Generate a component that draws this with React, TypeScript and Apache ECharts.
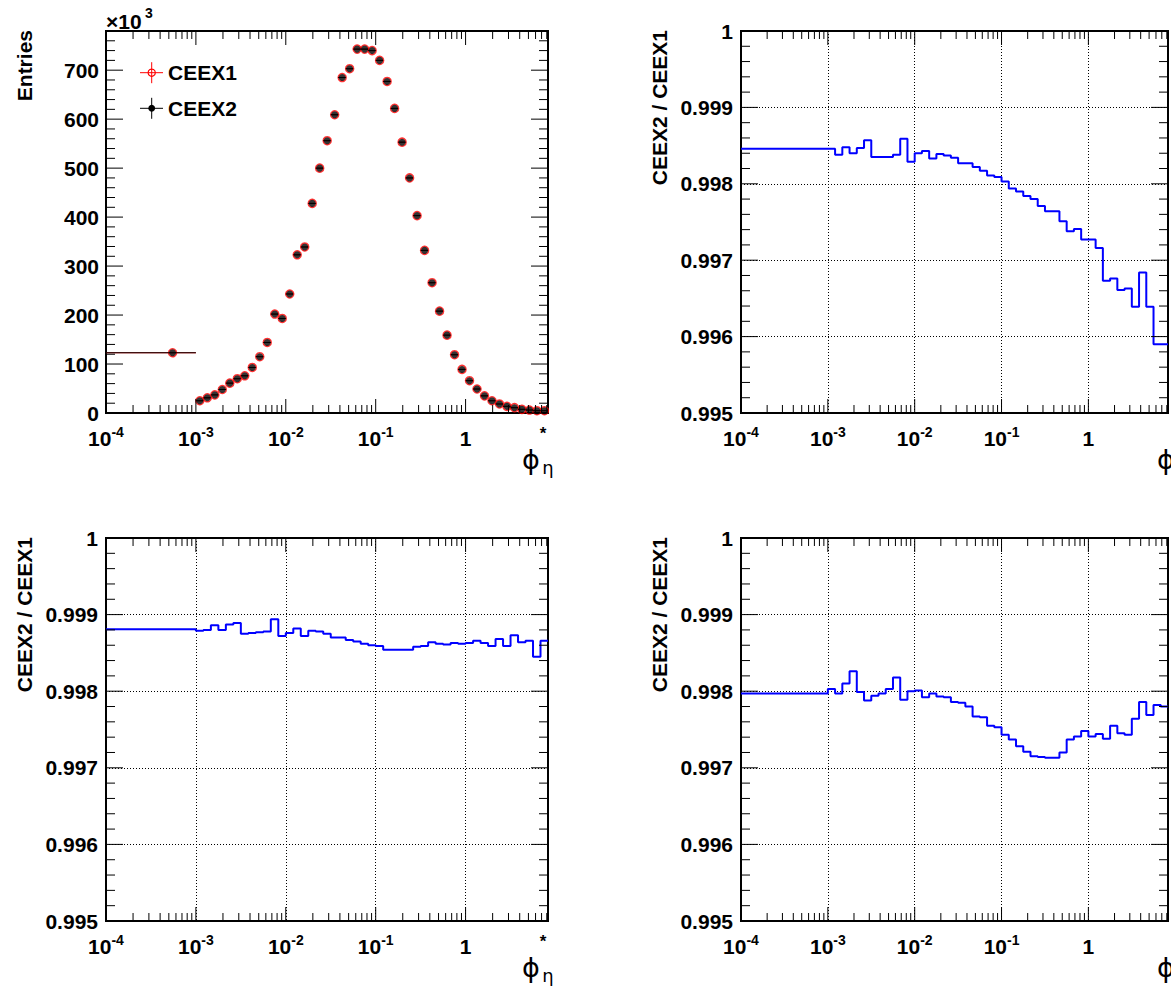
import React, { useEffect, useRef } from 'react';
import * as echarts from 'echarts';

// ---- binning (phi*_eta): one wide bin 1e-4..1e-3, then 12 log bins per decade ----
const binEdges = [
  0.0001,
  0.001, 0.0012115, 0.0014678, 0.0017783, 0.0021544, 0.0026102, 0.0031623, 0.0038312, 0.0046416, 0.0056234, 0.0068129, 0.008254,
  0.01, 0.012115, 0.014678, 0.017783, 0.021544, 0.026102, 0.031623, 0.038312, 0.046416, 0.056234, 0.068129, 0.08254,
  0.1, 0.12115, 0.14678, 0.17783, 0.21544, 0.26102, 0.31623, 0.38312, 0.46416, 0.56234, 0.68129, 0.8254,
  1, 1.2115, 1.4678, 1.7783, 2.1544, 2.6102, 3.1623, 3.8312, 4.6416, 5.6234, 6.8129, 8.254,
];

// ---- entries (x 10^3) ----
const ceex1 = [
  123, 25, 31, 37, 48, 61, 70, 76, 93, 115, 144, 202, 193, 243, 323, 339, 428, 500, 556, 609, 685,
  703, 743, 743, 740, 720, 677, 622, 553, 480, 403, 332, 266, 208, 159, 119, 89, 66, 49, 35, 25,
  18.4, 13.6, 10.9, 7.5, 6, 4.7, 4.7,
];
const ceex2 = [
  123, 25, 31, 37, 48, 61, 70, 76, 93, 115, 144, 202, 193, 243, 323, 339, 428, 500, 556, 609, 685,
  703, 743, 743, 740, 720, 677, 622, 553, 480, 403, 332, 266, 208, 159, 119, 89, 66, 49, 35, 25,
  18.4, 13.6, 10.9, 7.5, 6, 4.7, 4.7,
];

// ---- ratios CEEX2 / CEEX1 ----
const ratioTopRight = [
  0.99846, 0.99846, 0.99838, 0.99848, 0.9984, 0.99847, 0.99857, 0.99835, 0.99835, 0.99835, 0.99838,
  0.99859, 0.99829, 0.9984, 0.99843, 0.99833, 0.99839, 0.99837, 0.99834, 0.99827, 0.99827, 0.99822,
  0.99817, 0.99811, 0.99809, 0.99803, 0.99794, 0.9979, 0.99784, 0.9978, 0.99771, 0.99764, 0.99764,
  0.99751, 0.99738, 0.99741, 0.99727, 0.99727, 0.99716, 0.99673, 0.99676, 0.99661, 0.99663, 0.99639,
  0.99684, 0.99639, 0.9959, 0.9959,
];
const ratioBottomLeft = [
  0.99881, 0.99879, 0.9988, 0.99886, 0.9988, 0.99887, 0.99889, 0.99875, 0.99876, 0.99877, 0.99878,
  0.99894, 0.99872, 0.99876, 0.99882, 0.99872, 0.99879, 0.99878, 0.99875, 0.9987, 0.9987, 0.99867,
  0.99865, 0.99862, 0.9986, 0.99859, 0.99854, 0.99854, 0.99854, 0.99854, 0.99858, 0.99859, 0.99864,
  0.99862, 0.99861, 0.99863, 0.99862, 0.99863, 0.99866, 0.99863, 0.99859, 0.99868, 0.99859, 0.99873,
  0.99864, 0.99866, 0.99845, 0.99866,
];
const ratioBottomRight = [
  0.99797, 0.99803, 0.99797, 0.9981, 0.99826, 0.99799, 0.99788, 0.99794, 0.99797, 0.99803, 0.99818,
  0.99789, 0.998, 0.99801, 0.99792, 0.99797, 0.99793, 0.99792, 0.99786, 0.99785, 0.9978, 0.99767,
  0.99766, 0.99755, 0.99753, 0.99743, 0.99737, 0.99728, 0.99721, 0.99715, 0.99714, 0.99713, 0.99713,
  0.9972, 0.99737, 0.99741, 0.99748, 0.99741, 0.99744, 0.99738, 0.99755, 0.99745, 0.99743, 0.99764,
  0.99786, 0.99769, 0.99782, 0.9978,
];

// ---- axes / ticks ----
const X_MIN = 0.0001;
const X_MAX = 8.254;
const xTickExps = [-4, -3, -2, -1, 0];
const minorMultipliers = [2, 3, 4, 5, 6, 7, 8, 9];
const entriesTicks = [0, 100, 200, 300, 400, 500, 600, 700];
const ratioTicks = [0.995, 0.996, 0.997, 0.998, 0.999, 1];
const legendLabels = ['CEEX1', 'CEEX2'];

const FONT = '"Liberation Sans", Arial, Helvetica, sans-serif';
const SYM = '"DejaVu Sans", sans-serif';

type Panel = {
  left: number; top: number; height: number;
  ymin: number; ymax: number; yStep: number; yMinor: number;
  grid: boolean; ratio: number[] | null; yTitle: string;
};

const W = 442;
const panels: Panel[] = [
  { left: 106, top: 31, height: 382, ymin: 0, ymax: 780, yStep: 100, yMinor: 20, grid: false, ratio: null, yTitle: 'Entries' },
  { left: 741, top: 31, height: 382, ymin: 0.995, ymax: 1, yStep: 0.001, yMinor: 0.0002, grid: true, ratio: ratioTopRight, yTitle: 'CEEX2 / CEEX1' },
  { left: 106, top: 538, height: 383, ymin: 0.995, ymax: 1, yStep: 0.001, yMinor: 0.0002, grid: true, ratio: ratioBottomLeft, yTitle: 'CEEX2 / CEEX1' },
  { left: 741, top: 538, height: 383, ymin: 0.995, ymax: 1, yStep: 0.001, yMinor: 0.0002, grid: true, ratio: ratioBottomRight, yTitle: 'CEEX2 / CEEX1' },
];

function tickRows(p: Panel): number[][] {
  const rows: number[][] = [];
  xTickExps.forEach((e) => {
    const d = Math.pow(10, e);
    rows.push([d, p.ymin, 0]);
    minorMultipliers.forEach((m) => {
      const v = m * d;
      if (v < X_MAX) rows.push([v, p.ymin, 1]);
    });
  });
  const majors = p.ratio ? ratioTicks : entriesTicks;
  majors.forEach((v) => rows.push([X_MIN * 1.5, v, 2]));
  const n = Math.round((p.ymax - p.ymin) / p.yMinor);
  const per = Math.round(p.yStep / p.yMinor);
  for (let i = 0; i <= n; i++) {
    if (i % per !== 0) rows.push([X_MIN * 1.5, p.ymin + i * p.yMinor, 3]);
  }
  return rows;
}

function stepData(vals: number[]): number[][] {
  const pts: number[][] = [];
  vals.forEach((v, i) => {
    pts.push([binEdges[i], v]);
    pts.push([binEdges[i + 1], v]);
  });
  return pts;
}

function xLabel(v: number): string {
  const lg = Math.log10(v);
  const e = Math.round(lg);
  if (Math.abs(lg - e) > 1e-6 || xTickExps.indexOf(e) < 0) return '';
  if (e === 0) return '{b|1}';
  return `{b|10}{s|${e}}`;
}

function buildOption(): any {
  const grid = panels.map((p) => ({
    left: p.left, top: p.top, width: W, height: p.height,
    show: true, borderColor: '#000', borderWidth: 2, backgroundColor: 'transparent',
  }));

  const xAxis = panels.map((p, i) => ({
    type: 'log', logBase: 10, gridIndex: i, min: X_MIN, max: X_MAX,
    axisLine: { show: false }, axisTick: { show: false },
    splitLine: { show: p.grid, lineStyle: { color: '#000', width: 1, type: [1, 2] } },
    axisLabel: {
      interval: 0, margin: 12, formatter: xLabel, color: '#000',
      rich: {
        b: { fontSize: 21, fontWeight: 'bold', fontFamily: FONT, color: '#000', lineHeight: 26 },
        s: { fontSize: 14, fontWeight: 'bold', fontFamily: FONT, color: '#000', lineHeight: 13, verticalAlign: 'top' },
      },
    },
  }));

  const yAxis = panels.map((p, i) => ({
    type: 'value', gridIndex: i, min: p.ymin, max: p.ymax, interval: p.yStep,
    axisLine: { show: false }, axisTick: { show: false },
    splitLine: { show: p.grid, lineStyle: { color: '#000', width: 1, type: [1, 2] } },
    axisLabel: {
      margin: p.ratio ? 8 : 7,
      fontSize: 21, fontWeight: 'bold', fontFamily: FONT, color: '#000',
      formatter: (v: number) => {
        if (p.ratio) {
          const r = Math.round(v * 1000) / 1000;
          if (r === 1) return '1';
          return r.toFixed(3);
        }
        return v <= 700 ? String(Math.round(v)) : '';
      },
    },
  }));

  const series: any[] = [];

  panels.forEach((p, i) => {
    if (p.ratio) {
      series.push({
        type: 'line', xAxisIndex: i, yAxisIndex: i, data: stepData(p.ratio),
        symbol: 'none', lineStyle: { color: '#0000ff', width: 2 }, z: 3, silent: true,
      });
    }
    series.push({
      type: 'custom', xAxisIndex: i, yAxisIndex: i, data: tickRows(p), encode: { x: 0, y: 1 }, z: 5, silent: true,
      renderItem: (params: any, api: any) => {
        const cs = params.coordSys;
        const top = cs.y, bottom = cs.y + cs.height, left = cs.x, right = cs.x + cs.width;
        const kind = api.value(2);
        const pt = api.coord([api.value(0), api.value(1)]);
        const st = { stroke: '#000', lineWidth: 1 };
        if (kind <= 1) {
          const px = pt[0];
          const L = kind === 0 ? 14 : 8;
          return {
            type: 'group', children: [
              { type: 'line', shape: { x1: px, y1: bottom, x2: px, y2: bottom - L }, style: st },
              { type: 'line', shape: { x1: px, y1: top, x2: px, y2: top + L }, style: st },
            ],
          };
        }
        const py = pt[1];
        const L = kind === 2 ? 17 : 9;
        return {
          type: 'group', children: [
            { type: 'line', shape: { x1: left, y1: py, x2: left + L, y2: py }, style: st },
            { type: 'line', shape: { x1: right, y1: py, x2: right - L, y2: py }, style: st },
          ],
        };
      },
    });
  });

  const errSeries = (vals: number[], color: string, z: number) => ({
    type: 'custom', xAxisIndex: 0, yAxisIndex: 0, z, silent: true,
    data: vals.map((v, i) => [binEdges[i], binEdges[i + 1], v]),
    encode: { x: [0, 1], y: 2 },
    renderItem: (params: any, api: any) => {
      const a = api.coord([api.value(0), api.value(2)]);
      const b = api.coord([api.value(1), api.value(2)]);
      return { type: 'line', shape: { x1: a[0], y1: a[1], x2: b[0], y2: b[1] }, style: { stroke: color, lineWidth: 1 } };
    },
  });

  series.push(errSeries(ceex1, '#ff0000', 3));
  series.push({
    type: 'scatter', name: legendLabels[0], xAxisIndex: 0, yAxisIndex: 0, z: 3, silent: true,
    data: ceex1.map((v, i) => [(binEdges[i] + binEdges[i + 1]) / 2, v]),
    symbol: 'circle', symbolSize: 8,
    itemStyle: { color: 'rgba(255,255,255,0)', borderColor: '#ff0000', borderWidth: 1.5 },
  });
  series.push(errSeries(ceex2, '#000000', 4));
  series.push({
    type: 'scatter', name: legendLabels[1], xAxisIndex: 0, yAxisIndex: 0, z: 4, silent: true,
    data: ceex2.map((v, i) => [(binEdges[i] + binEdges[i + 1]) / 2, v]),
    symbol: 'circle', symbolSize: 7, itemStyle: { color: '#000000' },
  });

  const graphic: any[] = [];
  const txt = (x: number, y: number, text: string, o: any = {}) => ({
    type: 'text', x, y, rotation: o.rotation || 0, z: 10, silent: true,
    style: {
      text, fill: o.fill || '#000', fontSize: o.fontSize || 21, fontWeight: o.fontWeight || 'bold',
      fontFamily: o.fontFamily || FONT, align: o.align || 'left', verticalAlign: o.verticalAlign || 'middle',
    },
  });

  panels.forEach((p) => {
    const bottom = p.top + p.height;
    // y titles
    graphic.push(txt(p.left - 82, p.top - 1, p.yTitle, { rotation: Math.PI / 2, align: 'right', fontSize: 21 }));
    // x title: phi with superscript star and subscript eta
    graphic.push(txt(p.left + 425, bottom + 46, '\u03d5', { align: 'center', fontSize: 27, fontWeight: 'normal', fontFamily: SYM }));
    graphic.push(txt(p.left + 437, bottom + 20, '*', { align: 'center', fontSize: 17 }));
    graphic.push(txt(p.left + 442, bottom + 54, '\u03b7', { align: 'center', fontSize: 18, fontWeight: 'normal', fontFamily: SYM }));
  });

  // x10^3
  graphic.push(txt(106, 21, '\u00d710', { fontSize: 21 }));
  graphic.push(txt(145, 13, '3', { fontSize: 14 }));

  // legend
  const legendY = [72.7, 108.3];
  const legendColors = ['#ff0000', '#000000'];
  legendLabels.forEach((lab, i) => {
    const y = legendY[i];
    const c = legendColors[i];
    graphic.push({ type: 'line', z: 10, silent: true, shape: { x1: 140, y1: y, x2: 163, y2: y }, style: { stroke: c, lineWidth: 1 } });
    graphic.push({ type: 'line', z: 10, silent: true, shape: { x1: 151.7, y1: y - 10.5, x2: 151.7, y2: y + 10.5 }, style: { stroke: c, lineWidth: 1 } });
    if (i === 0) {
      graphic.push({ type: 'circle', z: 11, silent: true, shape: { cx: 151.7, cy: y, r: 3.6 }, style: { fill: 'rgba(255,255,255,0)', stroke: c, lineWidth: 1.2 } });
    } else {
      graphic.push({ type: 'circle', z: 11, silent: true, shape: { cx: 151.7, cy: y, r: 3.4 }, style: { fill: c } });
    }
    graphic.push(txt(168, y, lab, { fontSize: 21 }));
  });

  return {
    animation: false,
    backgroundColor: '#ffffff',
    grid, xAxis, yAxis, series, graphic,
  };
}

export default function App() {
  const ref = useRef<HTMLDivElement>(null);
  useEffect(() => {
    const chart = echarts.init(ref.current as HTMLDivElement, null, { renderer: 'svg' });
    chart.setOption(buildOption());
    return () => chart.dispose();
  }, []);
  return (
    <div
      ref={ref}
      style={{ position: 'absolute', left: 0, top: 0, width: 1171, height: 986, background: '#fff' }}
    />
  );
}
